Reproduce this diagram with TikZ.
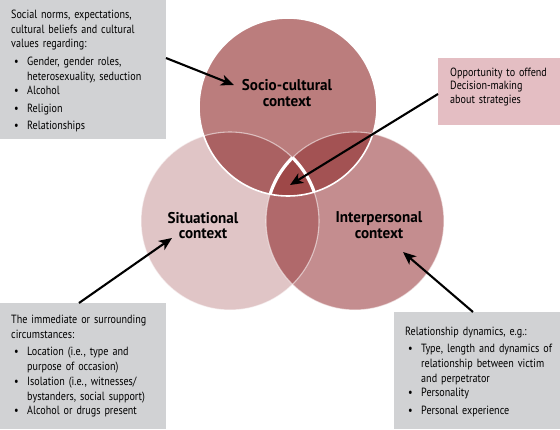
\documentclass[tikz,border=0pt]{standalone}
\usepackage{fontspec}
\setmainfont{PT Sans}[FakeStretch=0.85]
\newfontfamily\labfont{PT Sans}[FakeStretch=0.97]
\usetikzlibrary{arrows.meta}
\definecolor{soccol}{HTML}{BB7D7D}
\definecolor{sitcol}{HTML}{E0C5C6}
\definecolor{intcol}{HTML}{C48D8F}
\definecolor{slcol}{HTML}{AA6162}
\definecolor{srcol}{HTML}{A35253}
\definecolor{lrcol}{HTML}{B0696B}
\definecolor{cencol}{HTML}{9E4848}
\definecolor{graybox}{HTML}{D1D2D4}
\definecolor{pinkbox}{HTML}{E4BEC3}
\newcommand\bul[1]{\par\vspace{2.6pt}\noindent\makebox[16pt][l]{\hspace{3pt}\textbullet}\parbox[t]{\dimexpr\linewidth-16pt\relax}{\raggedright #1}}
\tikzset{
  venn/.style={circle, minimum size=178pt, inner sep=0pt, draw=none},
  boxbg/.style={rectangle, inner sep=0pt, anchor=north west, draw=none},
  btxt/.style={anchor=north west, inner sep=0pt, align=left, text width=175pt,
    font=\fontsize{11.9}{14.9}\selectfont},
  lab/.style={align=center, inner sep=0pt,
    font=\labfont\bfseries\fontsize{15.6}{15.8}\selectfont},
  arr/.style={line width=2.1pt, -{Stealth[length=13pt,width=11pt,inset=3.5pt]}},
}
\begin{document}
\begin{tikzpicture}[x=1pt,y=-1pt]
\useasboundingbox (0,0) rectangle (560,429);
% circles
\node[venn, fill=sitcol] (sit) at (230,221) {};
\node[venn, fill=intcol] (int) at (355,221) {};
\node[venn, fill=soccol] (soc) at (288,107) {};
\begin{scope}
  \clip (288,107) circle (89pt);
  \fill[slcol] (230,221) circle (89pt);
  \fill[srcol] (355,221) circle (89pt);
\end{scope}
\begin{scope}
  \clip (230,221) circle (89pt);
  \fill[lrcol] (355,221) circle (89pt);
\end{scope}
\begin{scope}
  \clip (288,107) circle (89pt);
  \clip (230,221) circle (89pt);
  \fill[cencol] (355,221) circle (89pt);
\end{scope}
% outlines
\draw[white, opacity=0.55, line width=1.1pt] (230,221) circle (89pt);
\draw[white, opacity=0.55, line width=1.1pt] (355,221) circle (89pt);
\draw[white, line width=1.6pt] (288,107) circle (89pt);
\begin{scope}
  \clip (288,107) circle (89pt);
  \clip (230,221) circle (89pt);
  \draw[white, line width=3.2pt] (355,221) circle (89pt);
\end{scope}
\begin{scope}
  \clip (288,107) circle (89pt);
  \clip (355,221) circle (89pt);
  \draw[white, line width=3.2pt] (230,221) circle (89pt);
\end{scope}
% labels
\node[lab] (soclab) at (287,93) {Socio-cultural\\context};
\node[lab] (sitlab) at (203,225.5) {Situational\\context};
\node[lab] (intlab) at (379,225.5) {Interpersonal\\context};
% boxes
\node[boxbg, fill=graybox, minimum width=166pt, minimum height=139pt] (b1) at (0,0) {};
\node[boxbg, fill=pinkbox, minimum width=122pt, minimum height=67pt] (b2) at (438,58) {};
\node[boxbg, fill=graybox, minimum width=166pt, minimum height=126pt] (b3) at (0,303) {};
\node[boxbg, fill=graybox, minimum width=166pt, minimum height=117pt] (b4) at (394,312) {};
% box texts
\node[btxt] (t1) at (11,9.5) {Social norms, expectations,\\cultural beliefs and cultural\\values regarding:
\bul{Gender, gender roles,\\heterosexuality, seduction}
\bul{Alcohol}
\bul{Religion}
\bul{Relationships}};
\node[btxt, text width=118pt, font=\fontsize{11.9}{13.8}\selectfont] (t2) at (450,67.5) {Opportunity to offend\\Decision-making\\about strategies};
\node[btxt] (t3) at (11,314.5) {The immediate or surrounding\\circumstances:
\bul{Location (i.e., type and\\purpose of occasion)}
\bul{Isolation (i.e., witnesses/\\bystanders, social support)}
\bul{Alcohol or drugs present}};
\node[btxt, text width=160pt] (t4) at (405,326.5) {Relationship dynamics, e.g.:
\bul{Type, length and dynamics of\\relationship between victim\\and perpetrator}
\bul{Personality}
\bul{Personal experience}};
% arrow end points
\coordinate (a1s) at (166,58);
\coordinate (a1e) at (234,85);
\coordinate (a2s) at (438,94);
\coordinate (a2e) at (290,185);
\coordinate (a3s) at (79,303);
\coordinate (a3e) at (172,238);
\coordinate (a4s) at (473,312);
\coordinate (a4e) at (403,252);
\draw[arr] (a1s) -- (a1e);
\draw[arr] (a2s) -- (a2e);
\draw[arr] (a3s) -- (a3e);
\draw[arr] (a4s) -- (a4e);
\end{tikzpicture}
\end{document}
